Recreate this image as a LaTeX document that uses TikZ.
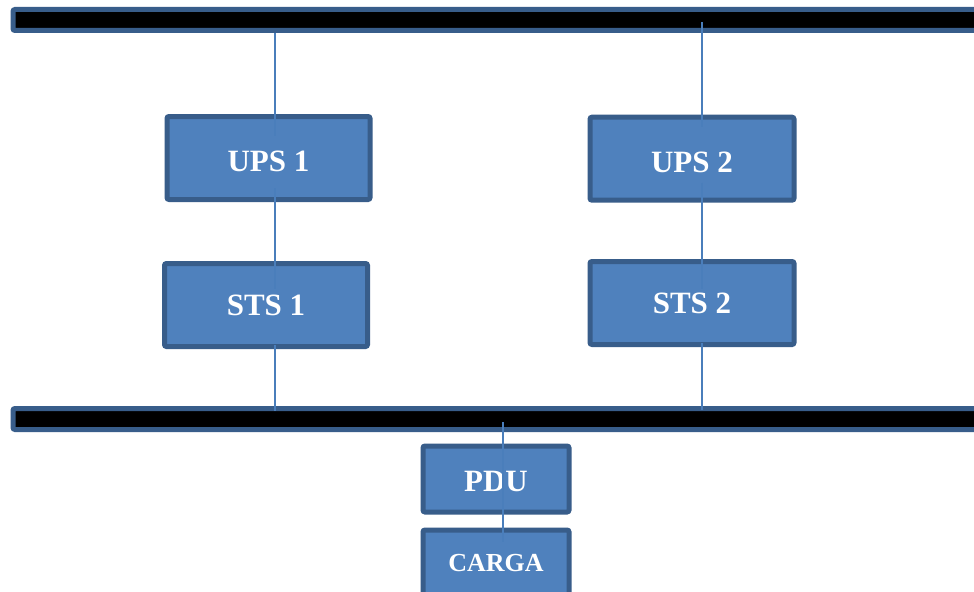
\documentclass[tikz,border=0pt]{standalone}
\usepackage{fontspec}
\setmainfont{Liberation Serif}
\usetikzlibrary{calc}
\definecolor{boxfill}{HTML}{4F81BD}
\definecolor{boxedge}{HTML}{385D8A}
\definecolor{wire}{HTML}{4A7EBB}
\begin{document}
\begin{tikzpicture}[x=0.75pt,y=-0.75pt,
  blk/.style={draw=boxedge,fill=boxfill,line width=3.75pt,rounded corners=1.5pt,
    inner sep=0pt,text=white,font=\fontsize{23.25}{26}\selectfont\bfseries},
  busbar/.style={draw=boxedge,fill=black,line width=3.75pt,rounded corners=1.5pt,
    inner sep=0pt,minimum height=15.75pt,minimum width=750pt,anchor=west},
  wireline/.style={draw=wire,line width=1.2pt}]
\useasboundingbox (0,0) rectangle (974,592);
\fill[white] (0,0) rectangle (974,592);
% bus bars
\node[busbar] (topbar) at (10.5,20) {};
\node[busbar] (botbar) at (10.5,419) {};
% boxes
\node[blk,minimum width=152.25pt,minimum height=62.25pt,text height=20pt,text depth=0pt] (ups1) at (268.5,158) {UPS 1};
\node[blk,minimum width=153pt,minimum height=62.25pt,text height=20pt,text depth=0pt] (ups2) at (692,158.7) {UPS 2};
\node[blk,minimum width=152.25pt,minimum height=62.25pt] (sts1) at (266,305) {STS 1};
\node[blk,minimum width=153pt,minimum height=62.25pt] (sts2) at (692,303) {STS 2};
\node[blk,minimum width=109.5pt,minimum height=49.5pt,text height=18.4pt,text depth=0pt] (pdu) at (496,479) {PDU};
\node[blk,minimum width=109.5pt,minimum height=49.5pt,
  font=\fontsize{19.5}{22}\selectfont\bfseries] (carga) at (496,563) {CARGA};
% wire x positions
\coordinate (xa) at (275,0);
\coordinate (xb) at (701.7,0);
\coordinate (xc) at (503,0);
% left chain
\draw[wireline] (xa |- topbar.south) -- ($(xa |- ups1.north)+(0,22)$);
\draw[wireline] ($(xa |- ups1.south)+(0,-14)$) -- ($(xa |- sts1.north)+(0,28)$);
\draw[wireline] ($(xa |- sts1.south)+(0,-4)$) -- ($(xa |- botbar.north)+(0,5)$);
% right chain
\draw[wireline] ($(xb |- topbar.center)+(0,2)$) -- ($(xb |- ups2.north)+(0,12)$);
\draw[wireline] ($(xb |- ups2.south)+(0,-20)$) -- ($(xb |- sts2.north)+(0,30)$);
\draw[wireline] ($(xb |- sts2.south)+(0,-4)$) -- ($(xb |- botbar.north)+(0,4)$);
% load chain
\draw[wireline] ($(xc |- botbar.center)+(0,3)$) -- ($(xc |- carga.north)+(0,14)$);
\end{tikzpicture}
\end{document}
